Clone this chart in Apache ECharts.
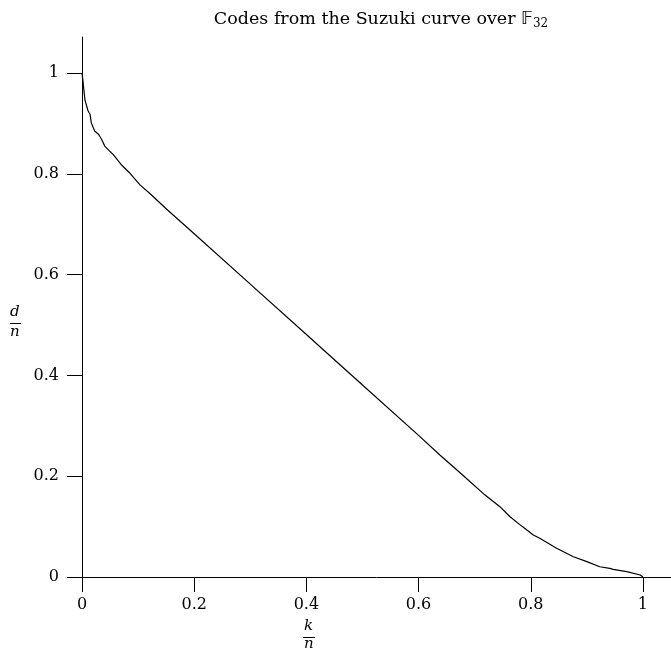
<!DOCTYPE html>
<html><head><meta charset="utf-8">
<script src="https://cdn.jsdelivr.net/npm/echarts@6/dist/echarts.min.js"></script>
<style>html,body{margin:0;padding:0;background:#fff}#c{width:671px;height:652px}</style>
</head><body><div id="c"></div>
<script>
// k/n values
var kn = [0, 0.0018, 0.0024, 0.0036, 0.0053, 0.0107, 0.0143, 0.0166, 0.0226, 0.0298, 0.035, 0.0405, 0.0494, 0.0558, 0.0700, 0.0856, 0.1034, 0.121, 0.151, 0.2, 0.3, 0.4, 0.5, 0.6, 0.638, 0.68, 0.718, 0.745, 0.763, 0.785, 0.8045, 0.816, 0.846, 0.876, 0.9, 0.923, 0.941, 0.947, 0.971, 0.995, 1];
// d/n values
var dn = [1, 0.9835, 0.976, 0.964, 0.946, 0.925, 0.918, 0.901, 0.885, 0.878, 0.868, 0.855, 0.845, 0.838, 0.818, 0.801, 0.778, 0.761, 0.7296, 0.681, 0.581, 0.481, 0.381, 0.281, 0.242, 0.201, 0.163, 0.1395, 0.1196, 0.100, 0.0833, 0.0768, 0.057, 0.0403, 0.0304, 0.0204, 0.0172, 0.0152, 0.0105, 0.004, 0];
var xTicks = [0, 0.2, 0.4, 0.6, 0.8, 1];
var yTicks = [0, 0.2, 0.4, 0.6, 0.8, 1];
var titleText = 'Codes from the Suzuki curve over ';

var data = kn.map(function (v, i) { return [v, dn[i]]; });
var serif = '"DejaVu Serif", "Liberation Serif", serif';
var chart = echarts.init(document.getElementById('c'), null, {renderer: 'canvas'});
function fmt(v){ return String(Math.round(v*10)/10); }
chart.setOption({
  animation: false,
  backgroundColor: '#fff',
  title: {
    text: '{a|' + titleText + '}{b|𝔽}{c|32}',
    left: 376, top: 2, textAlign: 'center',
    textStyle: {
      fontWeight: 'normal',
      rich: {
        a: {fontFamily: serif, fontSize: 17.5, fontWeight: 'normal', color: '#000', lineHeight: 24},
        b: {fontFamily: '"DejaVu Sans", serif', fontSize: 17.5, fontWeight: 'normal', color: '#000', lineHeight: 24},
        c: {fontFamily: serif, fontSize: 12, fontWeight: 'normal', color: '#000', lineHeight: 24, padding: [9, 0, 0, 0]}
      }
    }
  },
  grid: {left: 82, right: 0, top: 37, bottom: 75, containLabel: false},
  xAxis: {
    type: 'value', min: 0, max: 1.05,
    axisLine: {lineStyle: {color: '#000', width: 1}},
    axisTick: {show: true, length: 15, lineStyle: {color: '#000'}, customValues: xTicks},
    axisLabel: {color: '#000', fontFamily: serif, fontSize: 16, margin: 20, customValues: xTicks, formatter: fmt},
    splitLine: {show: false}
  },
  yAxis: {
    type: 'value', min: 0, max: 1.0714,
    axisLine: {show: true, lineStyle: {color: '#000', width: 1}},
    axisTick: {show: true, length: 15, lineStyle: {color: '#000'}, customValues: yTicks},
    axisLabel: {color: '#000', fontFamily: serif, fontSize: 16, margin: 23, customValues: yTicks, formatter: fmt},
    splitLine: {show: false}
  },
  graphic: [
    {type: 'text', left: 10, top: 305, style: {text: 'd', font: 'italic 15px ' + serif, fill: '#000'}},
    {type: 'line', shape: {x1: 10, y1: 323.5, x2: 21, y2: 323.5}, style: {stroke: '#000', lineWidth: 1}},
    {type: 'text', left: 10, top: 325, style: {text: 'n', font: 'italic 15px ' + serif, fill: '#000'}},
    {type: 'text', left: 304, top: 619, style: {text: 'k', font: 'italic 15px ' + serif, fill: '#000'}},
    {type: 'line', shape: {x1: 303, y1: 637.5, x2: 315, y2: 637.5}, style: {stroke: '#000', lineWidth: 1}},
    {type: 'text', left: 304, top: 637, style: {text: 'n', font: 'italic 15px ' + serif, fill: '#000'}}
  ],
  series: [{
    type: 'line', data: data, showSymbol: false, symbol: 'none',
    lineStyle: {color: '#000', width: 1.2}, silent: true
  }]
});
</script></body></html>
